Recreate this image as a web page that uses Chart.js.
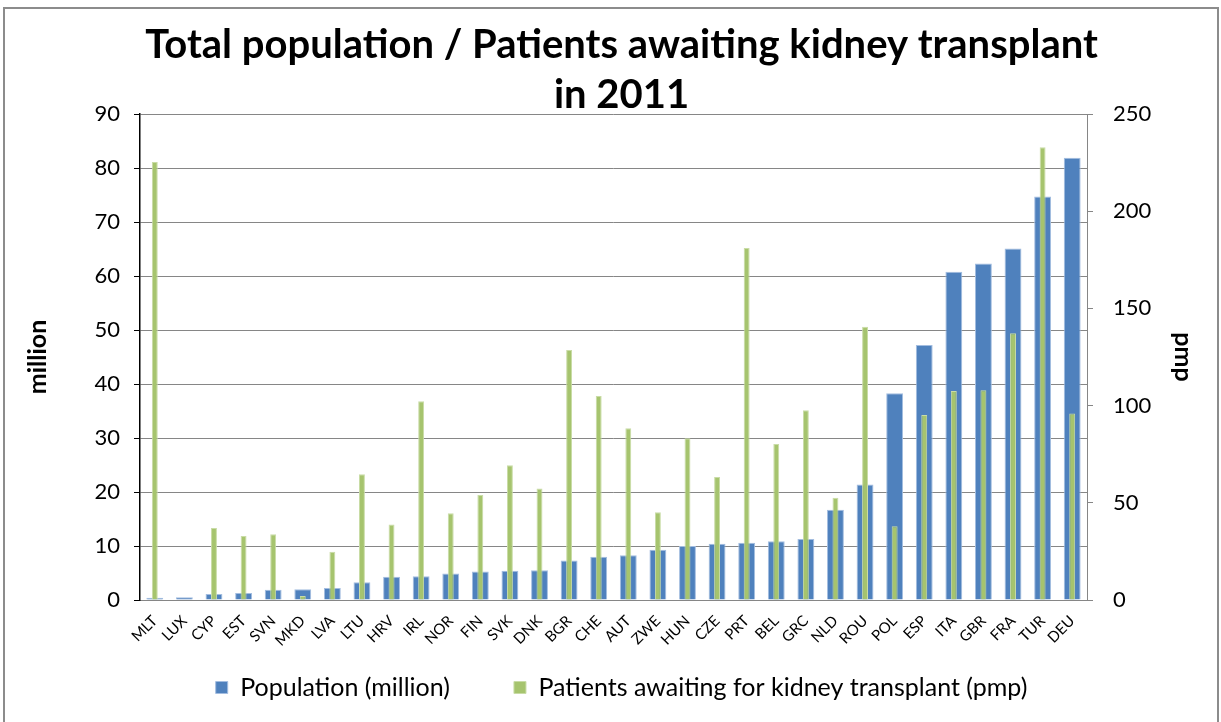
<!DOCTYPE html>
<html>
<head>
<meta charset="utf-8">
<title>Total population / Patients awaiting kidney transplant in 2011</title>
<script src="https://cdn.jsdelivr.net/npm/chart.js@4"></script>
<style>
  html, body { margin: 0; padding: 0; background: #fff; overflow: hidden; }
  #wrap { position: relative; width: 1221px; height: 722px; }
  #frame {
    position: absolute; left: 3px; top: 7px; width: 1212px; height: 740px;
    border: 2px solid #8c8c8c; pointer-events: none;
  }
</style>
</head>
<body>
<div id="wrap">
  <canvas id="kidneyChart" width="1221" height="722"></canvas>
  <div id="frame"></div>
</div>
<script>
// Data
const countries = ["MLT", "LUX", "CYP", "EST", "SVN", "MKD", "LVA", "LTU", "HRV", "IRL",
  "NOR", "FIN", "SVK", "DNK", "BGR", "CHE", "AUT", "ZWE", "HUN", "CZE", "PRT", "BEL",
  "GRC", "NLD", "ROU", "POL", "ESP", "ITA", "GBR", "FRA", "TUR", "DEU"];

const population = [0.4, 0.5, 1.1, 1.3, 1.9, 2.0, 2.2, 3.3, 4.3, 4.4,
  4.9, 5.3, 5.4, 5.5, 7.3, 8.0, 8.3, 9.3, 10.0, 10.4, 10.6, 10.9,
  11.3, 16.7, 21.4, 38.3, 47.2, 60.8, 62.3, 65.1, 74.7, 81.9];

const awaitingPmp = [225.3, 0, 37.0, 32.9, 33.8, 2.1, 24.8, 64.7, 38.9, 102.2,
  44.6, 54.0, 69.3, 57.4, 128.6, 104.9, 88.3, 45.1, 83.2, 63.3, 181.1, 80.2,
  97.6, 52.6, 140.6, 37.9, 95.2, 107.5, 107.9, 137.2, 232.9, 96.0];

const leftTicks = { min: 0, max: 90, step: 10 };
const rightTicks = { min: 0, max: 250, step: 50 };

Chart.defaults.font.family = "Lato, 'Open Sans', sans-serif";
Chart.defaults.color = "#000";

// legend items sit far apart, but the legend should not eat into the plot height
const legendGap = 39;
const legendShift = {
  id: "legendShift",
  beforeLayout: function (chart) {
    const legend = chart.legend;
    if (legend && !legend.shiftPatched) {
      const baseFit = legend.fit;
      legend.fit = function () {
        baseFit.call(this);
        this.height -= legendGap;
      };
      legend.shiftPatched = true;
    }
  },
  afterLayout: function (chart) {
    if (chart.legend) {
      chart.legend.top -= legendGap;
    }
  }
};

const ctx = document.getElementById("kidneyChart");

new Chart(ctx, {
  type: "bar",
  data: {
    labels: countries,
    datasets: [
      {
        label: "Population (million)",
        data: population,
        yAxisID: "y",
        backgroundColor: "#4F81BD",
        borderColor: "#a3bde0",
        borderWidth: 1,
        grouped: false,
        categoryPercentage: 1,
        barPercentage: 0.57,
        order: 1
      },
      {
        label: "Patients awaiting for kidney transplant (pmp)",
        data: awaitingPmp,
        yAxisID: "y1",
        backgroundColor: "#A6C46E",
        borderColor: "#c9dca6",
        borderWidth: 1,
        grouped: false,
        categoryPercentage: 1,
        barPercentage: 0.2,
        order: 0
      }
    ]
  },
  plugins: [legendShift],
  options: {
    responsive: false,
    animation: false,
    layout: {
      padding: { left: 34, right: 12, top: 0, bottom: 12 }
    },
    plugins: {
      title: {
        display: true,
        text: ["Total population / Patients awaiting kidney transplant", "in 2011"],
        font: { size: 40, weight: "bold", lineHeight: 1.25 },
        padding: { top: 20, bottom: -6 }
      },
      legend: {
        position: "bottom",
        labels: {
          boxWidth: 12,
          boxHeight: 12,
          padding: 64,
          font: { size: 25 },
          sort: function (a, b) {
            return a.datasetIndex - b.datasetIndex;
          }
        }
      },
      tooltip: { enabled: false }
    },
    scales: {
      x: {
        grid: { display: false },
        border: { color: "#868686", width: 1 },
        ticks: {
          minRotation: 45,
          maxRotation: 45,
          autoSkip: false,
          padding: 4,
          font: { size: 15 }
        },
        afterFit: function (scale) {
          scale.height = 50;
        }
      },
      y: {
        position: "left",
        min: leftTicks.min,
        max: leftTicks.max,
        ticks: {
          stepSize: leftTicks.step / 2,
          padding: 14,
          font: { size: 22 },
          callback: function (value) {
            return value % leftTicks.step === 0 ? value : "";
          }
        },
        grid: {
          color: function (c) {
            return c.tick && c.tick.value % leftTicks.step === 0 ? "#868686" : "rgba(0,0,0,0)";
          },
          tickColor: "#000",
          tickLength: 6
        },
        border: { color: "#000", width: 1.5 },
        title: {
          display: true,
          text: "million",
          font: { size: 25, weight: "bold" },
          padding: { top: -11, bottom: 20 }
        },
        afterFit: function (scale) {
          scale.width = 106;
        }
      },
      y1: {
        position: "right",
        min: rightTicks.min,
        max: rightTicks.max,
        ticks: {
          stepSize: rightTicks.step,
          padding: 20,
          font: { size: 22 }
        },
        grid: {
          drawOnChartArea: false,
          tickColor: "#868686",
          tickLength: 6
        },
        border: { color: "#868686", width: 1 },
        title: {
          display: true,
          text: "pmp",
          font: { size: 25, weight: "bold" },
          padding: { top: 11, bottom: 10 }
        },
        afterFit: function (scale) {
          scale.width = 122;
        }
      }
    }
  }
});
</script>
</body>
</html>
